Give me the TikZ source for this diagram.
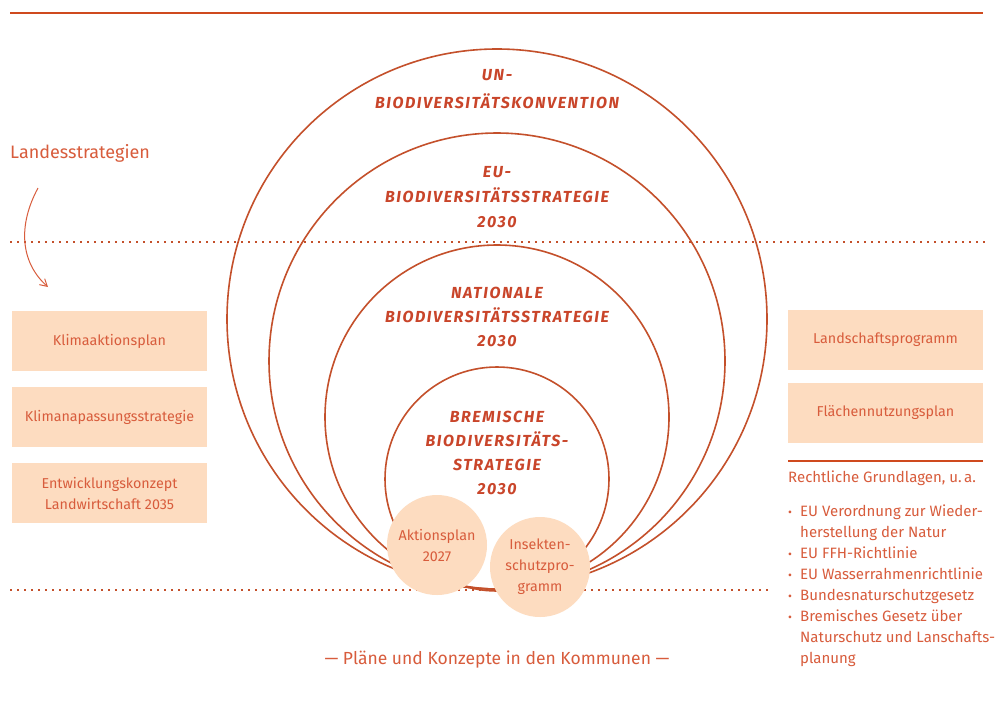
\documentclass[tikz,border=0pt]{standalone}
\usepackage{fontspec}
\setmainfont{Fira Sans}
\newfontfamily\headfont[LetterSpace=10]{Fira Sans}
\usetikzlibrary{arrows.meta}
\definecolor{ln}{HTML}{C4502B}
\definecolor{topln}{HTML}{CF4A1E}
\definecolor{tx}{HTML}{D85C3C}
\definecolor{hd}{HTML}{C9452A}
\definecolor{pale}{HTML}{FDDCC0}
\newcommand{\bul}{\makebox[12pt][l]{\fontsize{12}{12}\selectfont\raisebox{0.5pt}{•}}}
\tikzset{
  ring/.style={circle, draw=ln, line width=1.6pt, inner sep=0pt, outer sep=0pt},
  head/.style={text=hd, align=center, font=\headfont\bfseries\itshape\fontsize{16}{24}\selectfont},
  paleBox/.style={fill=pale, minimum width=195pt, minimum height=60pt, inner sep=0pt, text=tx, align=center, font=\fontsize{14.3}{21}\selectfont},
  blob/.style={circle, fill=pale, minimum size=100pt, inner sep=0pt, text=tx, align=center, font=\fontsize{14.3}{21}\selectfont},
  dotline/.style={draw=ln, line width=2pt, dash pattern=on 2pt off 5pt},
  plain/.style={text=tx, font=\fontsize{15}{21}\selectfont, inner sep=0pt},
}
\begin{document}
\begin{tikzpicture}[x=1pt,y=-1pt]
\useasboundingbox[fill=white] (0,0) rectangle (995,702);
% top rule
\coordinate (tl) at (10,13); \coordinate (tr) at (983,13);
\draw[topln, line width=2.5pt] (tl) -- (tr);
% dotted rules
\coordinate (d1l) at (10,242); \coordinate (d1r) at (985,242);
\coordinate (d2l) at (10,590); \coordinate (d2r) at (772,590);
\draw[dotline] (d1l) -- (d1r);
\draw[dotline] (d2l) -- (d2r);
% rings
\node[ring, minimum size=540pt] (un) at (497,319) {};
\node[ring, minimum size=456pt] (eu) at (497,361) {};
\node[ring, minimum size=344pt] (nat) at (497,417) {};
\node[ring, minimum size=224pt] (hb) at (497,479) {};
% headings
\node[head, font=\headfont\bfseries\itshape\fontsize{16}{28}\selectfont] (unt) at (497,89) {UN-\\BIODIVERSITÄTSKONVENTION};
\node[head, font=\headfont\bfseries\itshape\fontsize{16}{25}\selectfont] (eut) at (497,197) {EU-\\BIODIVERSITÄTSSTRATEGIE\\2030};
\node[head] (natt) at (497,317) {NATIONALE\\BIODIVERSITÄTSSTRATEGIE\\2030};
\node[head] (hbt) at (497,453) {BREMISCHE\\BIODIVERSITÄTS-\\STRATEGIE\\2030};
% blobs
\node[blob] (akt) at (437,545) {Aktionsplan\\2027};
\node[blob] (ins) at (540,567) {Insekten-\\schutzpro-\\gramm};
% left
\node[plain, anchor=west, font=\fontsize{18}{21}\selectfont] (land) at (10,153) {Landesstrategien};
\coordinate (a1) at (38,188); \coordinate (a2) at (48,287);
\draw[tx, line width=1pt, -{Straight Barb[length=7pt,width=8pt]}] (a1) .. controls (18,225) and (20,262) .. (a2);
\node[paleBox] (k1) at (109.5,341) {Klimaaktionsplan};
\node[paleBox] (k2) at (109.5,417) {Klimanapassungsstrategie};
\node[paleBox] (k3) at (109.5,493) {Entwicklungskonzept\\Landwirtschaft 2035};
% right
\node[paleBox] (r1) at (885.5,340) {Landschaftsprogramm};
\node[paleBox] (r2) at (885.5,413) {Flächennutzungsplan};
\coordinate (rl) at (788,461); \coordinate (rr) at (983,461);
\draw[topln, line width=1.2pt] (rl) -- (rr);
\node[plain, anchor=west] (rg) at (788,478) {Rechtliche Grundlagen, u.\,a.};
\node[plain, anchor=north west, align=left] (list) at (788,505) {%
\bul EU Verordnung zur Wieder-\\
\hspace*{12pt}herstellung der Natur\\
\bul EU FFH-Richtlinie\\
\bul EU Wasserrahmenrichtlinie\\
\bul Bundesnaturschutzgesetz\\
\bul Bremisches Gesetz über\\
\hspace*{12pt}Naturschutz und Lanschafts-\\
\hspace*{12pt}planung};
% bottom
\node[plain, font=\fontsize{17.5}{21}\selectfont] (komm) at (497,660) {— Pläne und Konzepte in den Kommunen —};
\end{tikzpicture}
\end{document}
